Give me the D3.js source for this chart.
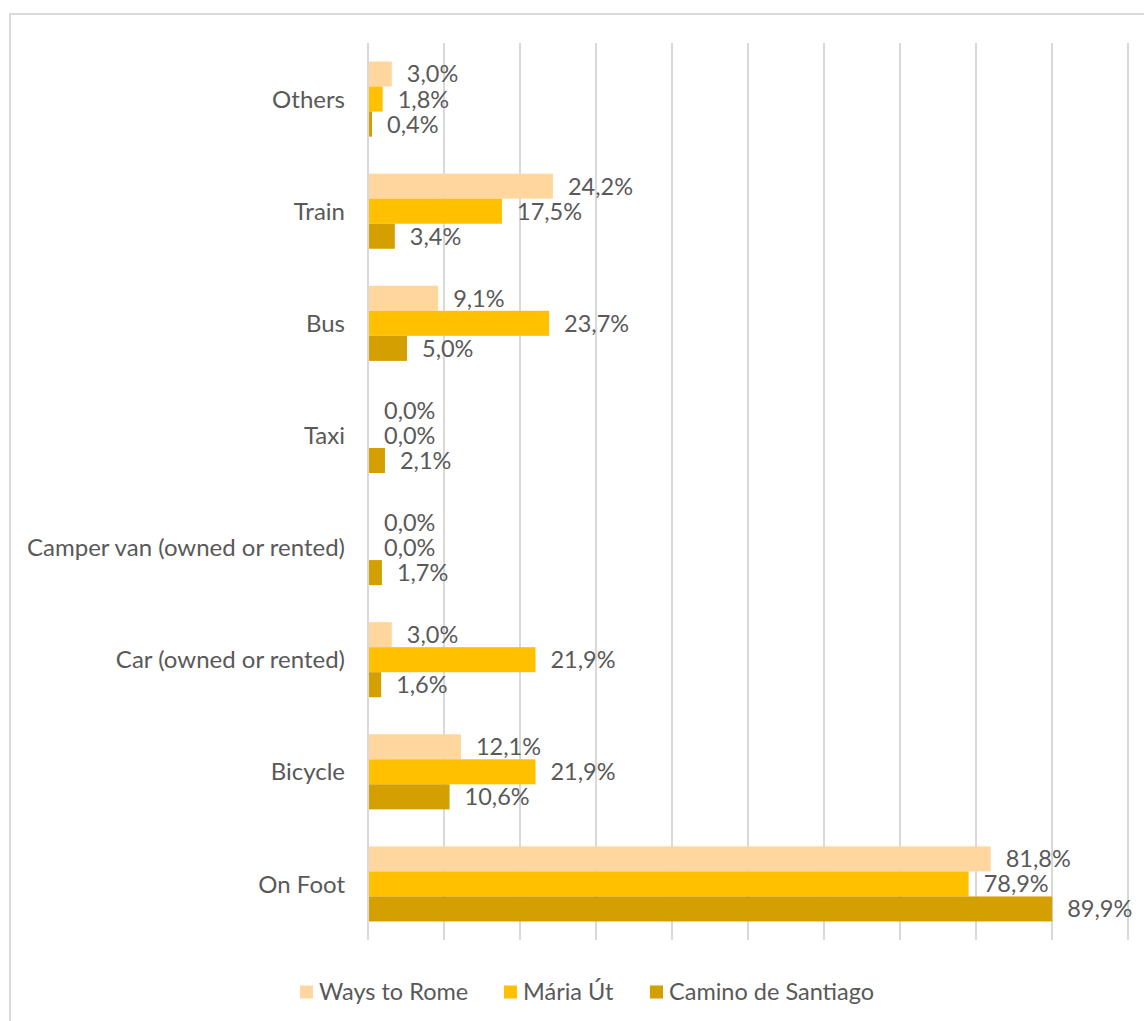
<!DOCTYPE html>
<html lang="en">
<head>
<meta charset="utf-8">
<title>Transport</title>
<script src="https://cdn.jsdelivr.net/npm/d3@7"></script>
<style>
  body { margin: 0; background: #fff; }
  text { font-family: Lato, "Open Sans", sans-serif; fill: #595959; }
</style>
</head>
<body>
<script>
const categories = ["Others", "Train", "Bus", "Taxi", "Camper van (owned or rented)", "Car (owned or rented)", "Bicycle", "On Foot"]
const seriesNames = ["Ways to Rome", "Mária Út", "Camino de Santiago"]
const waysToRome = [3.0, 24.2, 9.1, 0.0, 0.0, 3.0, 12.1, 81.8]
const mariaUt = [1.8, 17.5, 23.7, 0.0, 0.0, 21.9, 21.9, 78.9]
const camino = [0.4, 3.4, 5.0, 2.1, 1.7, 1.6, 10.6, 89.9]
const colors = ["#FFD79E", "#FFC000", "#D49F00"]
const gridTicks = [0, 10, 20, 30, 40, 50, 60, 70, 80, 90, 100]

const w = 1144, h = 1021
const svg = d3.select("body").append("svg").attr("width", w).attr("height", h)

// outer frame
svg.append("rect")
    .attr("x", 10).attr("y", 14)
    .attr("width", 1160).attr("height", 1040)
    .attr("fill", "none").attr("stroke", "#d9d9d9").attr("stroke-width", 2)

const x = d3.scaleLinear().domain([0, 100]).range([368, 1128])
const y0 = d3.scaleBand().domain(categories).range([43, 940]).paddingInner(0.33).paddingOuter(0.165)
const y1 = d3.scaleBand().domain(seriesNames).range([0, y0.bandwidth()])

// gridlines
svg.append("g").selectAll("line")
    .data(gridTicks)
    .enter().append("line")
    .attr("x1", d => x(d)).attr("x2", d => x(d))
    .attr("y1", 43).attr("y2", 940)
    .attr("stroke", "#d9d9d9").attr("stroke-width", 2)

const rows = categories.map((c, i) => ({
    cat: c,
    vals: [waysToRome[i], mariaUt[i], camino[i]]
}))

const fmt = v => v.toFixed(1).replace(".", ",") + "%"

const groups = svg.append("g").selectAll("g")
    .data(rows)
    .enter().append("g")
    .attr("transform", d => `translate(0,${y0(d.cat)})`)

groups.selectAll("rect")
    .data(d => d.vals.map((v, j) => ({ s: seriesNames[j], v: v, j: j })))
    .enter().append("rect")
    .attr("x", x(0) + 1)
    .attr("y", d => y1(d.s))
    .attr("width", d => Math.max(0, x(d.v) - x(0)))
    .attr("height", y1.bandwidth())
    .attr("fill", d => colors[d.j])

groups.selectAll("text")
    .data(d => d.vals.map((v, j) => ({ s: seriesNames[j], v: v })))
    .enter().append("text")
    .attr("x", d => x(d.v) + 16)
    .attr("y", d => y1(d.s) + y1.bandwidth() / 2)
    .attr("dy", "0.36em")
    .attr("font-size", "23.5px")
    .text(d => fmt(d.v))

// category labels
svg.append("g").selectAll("text")
    .data(categories)
    .enter().append("text")
    .attr("x", 345)
    .attr("y", d => y0(d) + y0.bandwidth() / 2)
    .attr("dy", "0.36em")
    .attr("text-anchor", "end")
    .attr("font-size", "24px")
    .text(d => d)

// legend
const legendX = [300, 504, 650]
const legend = svg.append("g").selectAll("g")
    .data(seriesNames)
    .enter().append("g")
    .attr("transform", (d, i) => `translate(${legendX[i]},992)`)
legend.append("rect")
    .attr("x", 0).attr("y", -6.5)
    .attr("width", 13).attr("height", 13)
    .attr("fill", (d, i) => colors[i])
legend.append("text")
    .attr("x", 19)
    .attr("dy", "0.36em")
    .attr("font-size", "23.5px")
    .text(d => d)
</script>
</body>
</html>
